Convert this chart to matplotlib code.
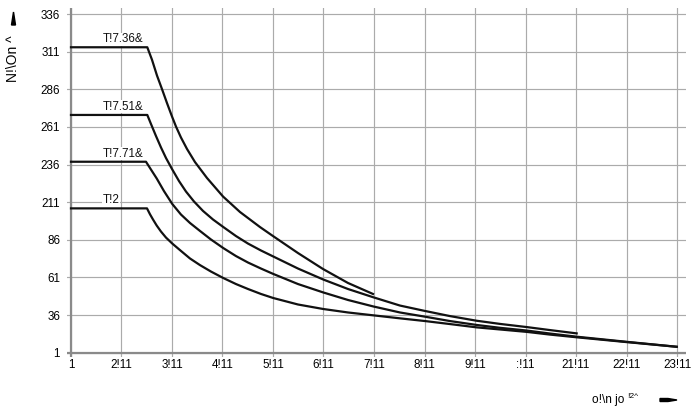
import matplotlib
matplotlib.use("Agg")
import matplotlib.pyplot as plt
from matplotlib.patches import Polygon

plt.rcParams['font.family'] = ['Liberation Sans', 'DejaVu Sans']

# axis ticks (labels kept exactly as printed in the source)
x_ticks = [0, 1000, 2000, 3000, 4000, 5000, 6000, 7000, 8000, 9000, 10000, 11000, 12000]
x_labels = ['1', '2!11', '3!11', '4!11', '5!11', '6!11', '7!11', '8!11', '9!11',
            ':!11', '21!11', '22!11', '23!11']
y_ticks = [0, 25, 50, 75, 100, 125, 150, 175, 200, 225]
y_labels = ['1', '36', '61', '86', '211', '236', '261', '286', '311', '336']

curve_names = ['T!7.36&', 'T!7.51&', 'T!7.71&', 'T!2']

x_c1 = [0, 1511, 1604, 1703, 1802, 1901, 2000, 2079, 2178, 2297, 2455, 2693, 3010,
        3346, 3742, 4000, 4495, 4990, 5485, 5980]
y_c1 = [203.0, 203.0, 194.7, 184.2, 175.2, 165.9, 157.0, 150.3, 143.0, 135.4, 126.7, 116.1, 103.8,
        93.5, 83.5, 77.5, 66.2, 55.6, 46.3, 39.0]

x_c2 = [0, 1511, 1584, 1683, 1782, 1881, 2000, 2138, 2277, 2435, 2614, 2812, 3016, 3267,
        3505, 3762, 4006, 4495, 4996, 5485, 5986, 6514, 7010, 7504, 8033, 8494, 9023,
        9484, 10013]
y_c2 = [158.0, 158.0, 152.0, 144.0, 136.4, 129.4, 122.1, 114.1, 107.1, 100.5, 94.2, 88.5, 83.5, 77.5,
        72.5, 67.9, 63.9, 55.9, 48.6, 42.3, 36.8, 31.3, 27.7, 24.3, 21.2, 19.1, 17.0,
        15.0, 12.8]

x_c3 = [0, 1485, 1584, 1697, 1841, 2006, 2178, 2356, 2554, 2772, 3016, 3267, 3505, 3762,
        4006, 4495, 4996, 5485, 5986, 6514, 7010, 7504, 8033, 8494, 9023, 9484, 10013,
        11003, 11993]
y_c3 = [126.9, 126.9, 121.7, 115.8, 107.4, 98.8, 91.8, 86.2, 80.9, 75.2, 69.5, 64.2, 59.9, 55.9,
        52.3, 45.6, 40.0, 35.0, 30.7, 26.7, 23.9, 21.0, 18.4, 16.5, 14.7, 12.7, 10.6,
        7.2, 3.9]

x_c4 = [0, 1505, 1564, 1624, 1697, 1782, 1881, 2006, 2178, 2356, 2554, 2772, 3016, 3267,
        3505, 3762, 4006, 4495, 4996, 5485, 5986, 6514, 7010, 7504, 8033, 8494, 9023,
        9484, 10013, 11003, 11993]
y_c4 = [95.9, 95.9, 92.0, 88.5, 84.5, 80.5, 76.5, 72.5, 67.6, 62.6, 58.2, 53.9, 49.6, 45.6,
        42.3, 39.0, 36.3, 32.0, 29.0, 26.7, 24.8, 22.8, 21.0, 19.0, 16.8, 15.4, 13.8,
        12.0, 10.2, 7.0, 3.9]

curves = [(x_c1, y_c1), (x_c2, y_c2), (x_c3, y_c3), (x_c4, y_c4)]

fig = plt.figure(figsize=(6.94, 4.08), dpi=100)
ax = fig.add_axes([67 / 694, 51 / 408, 619 / 694, 349 / 408])

ax.set_xlim(-79, 12178)
ax.set_ylim(-2.9, 229.1)

ax.set_xticks(x_ticks)
ax.set_xticklabels(x_labels, fontsize=8.4)
ax.set_yticks(y_ticks)
ax.set_yticklabels(y_labels, fontsize=8.4)
ax.tick_params(length=0, pad=5)
ax.tick_params(axis='x', pad=1.5)
for s in ax.spines.values():
    s.set_visible(False)

ax.grid(True, color='#ababab', linewidth=0.85)
ax.set_axisbelow(True)
ax.axvline(0, color='#8a8a8a', linewidth=1.6, zorder=1.5)
ax.axhline(0, color='#8a8a8a', linewidth=1.6, zorder=1.5)

for (xs, ys), name in zip(curves, curve_names):
    ax.plot(xs, ys, color='#111111', linewidth=1.6, solid_joinstyle='round', zorder=3)
    ax.annotate(name, (630, ys[0]), xytext=(0, 1.5), textcoords='offset points',
                fontsize=8.4, ha='left', va='bottom', color='#111111',
                bbox=dict(facecolor='white', edgecolor='none', pad=0.3))

# axis titles with arrows
fig.text(13 / 694, 1 - 59 / 408, 'N!\\On ^', rotation=90, fontsize=10,
         ha='center', va='center')
fig.text(592 / 694, 1 - 400 / 408, 'o!\\n jo', fontsize=8.6, ha='left', va='center')
fig.text(627 / 694, 1 - 397 / 408, '!2^', fontsize=6, ha='left', va='center')

W, H = 694, 408
fig.patches.append(Polygon([(11.5 / W, 1 - 25 / H), (15.5 / W, 1 - 25 / H), (13.5 / W, 1 - 12 / H)],
                           closed=True, transform=fig.transFigure, color='black'))
fig.patches.append(Polygon([(660 / W, 1 - 398.5 / H), (668 / W, 1 - 398.5 / H), (677 / W, 1 - 400 / H),
                            (668 / W, 1 - 401.5 / H), (660 / W, 1 - 401.5 / H)],
                           closed=True, transform=fig.transFigure, color='black'))

fig.savefig('out.png', dpi=100)
